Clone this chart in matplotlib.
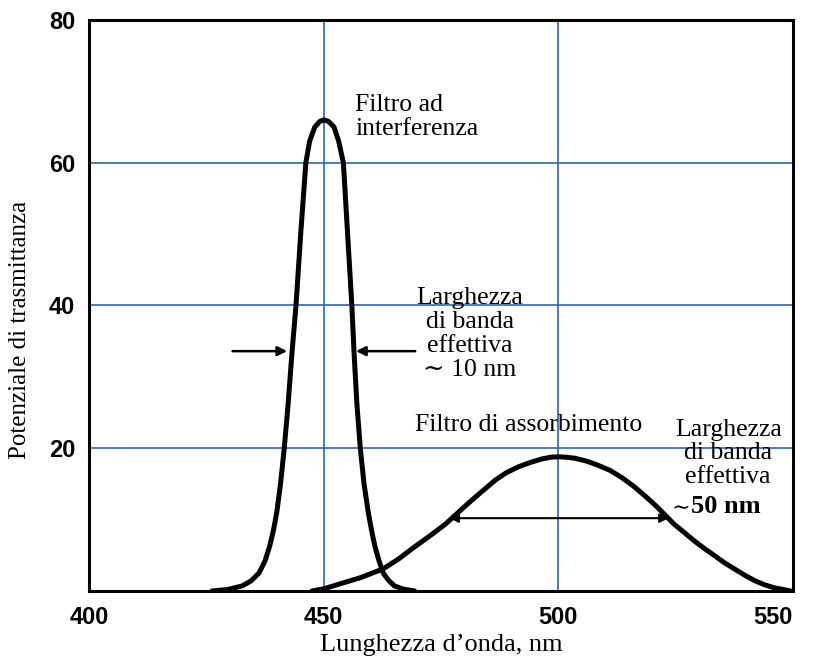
import matplotlib.pyplot as plt

# curve readings (wavelength nm, transmittance)
interf_wl = [426.2, 429.5, 432.6, 434.5, 436.2, 437.5, 438.5, 439.3, 440.0, 440.8, 441.6, 442.4,
             443.2, 444.1, 445.1, 446.2, 447.0, 448.1, 449.2, 450.1,
             451.0, 452.2, 453.2, 454.2, 455.1, 456.0, 456.5, 457.1, 457.8, 458.6, 459.5,
             460.2, 460.9, 461.8, 462.7, 463.8, 465.1, 467.0, 469.4]
interf_t = [0, 0.2, 0.7, 1.4, 2.5, 4.2, 6.3, 8.5, 11, 15, 20, 26,
            33, 40, 50, 60, 63, 65, 65.8, 66,
            65.8, 65, 63, 60, 50, 40, 33, 26, 20, 15, 11,
            8.5, 6.3, 4.2, 2.5, 1.5, 0.7, 0.25, 0]

absorb_wl = [447.5, 450, 454, 458, 462.7, 466, 469, 473, 476, 478.5, 481, 484, 486.7, 489, 491.5,
             494, 496.5, 498.5, 500, 501.5, 503.5, 506, 508.5, 511, 513.5, 516, 518.5, 521,
             524.6, 527, 529, 531, 533.4, 535.5, 538, 540, 542, 544, 546, 549.5]
absorb_t = [0, 0.3, 1.1, 1.9, 3.1, 4.5, 6.0, 7.9, 9.4, 10.9, 12.4, 14.1, 15.6, 16.6, 17.4,
            18.0, 18.5, 18.75, 18.8, 18.75, 18.6, 18.2, 17.6, 16.9, 15.9, 14.7, 13.3, 11.8,
            9.4, 8.1, 7.0, 6.0, 4.9, 3.9, 2.9, 2.1, 1.4, 0.85, 0.45, 0]

xticks = [400, 450, 500, 550]
yticks = [20, 40, 60, 80]

serif = ['Liberation Serif', 'DejaVu Serif']
blue = '#2f63b8'
fs = 18.5

fig = plt.figure(figsize=(8.13, 6.57), dpi=100)
ax = fig.add_axes([0.1095, 0.1005, 0.8659, 0.8691])

for x in [450, 500]:
    ax.axvline(x, color=blue, linewidth=1.2, zorder=1)
for y in [20, 40, 60]:
    ax.axhline(y, color=blue, linewidth=1.2, zorder=1)

ax.plot(interf_wl, interf_t, color='black', linewidth=3.6, solid_joinstyle='round',
        solid_capstyle='round', zorder=3)
ax.plot(absorb_wl, absorb_t, color='black', linewidth=3.6, solid_joinstyle='round',
        solid_capstyle='round', zorder=3)

ax.set_xlim(400, 550)
ax.set_ylim(0, 80)
ax.set_xticks(xticks)
ax.set_yticks(yticks)
ax.tick_params(axis='x', length=0, pad=11)
ax.tick_params(axis='y', length=0, pad=10)
for lab in ax.get_xticklabels() + ax.get_yticklabels():
    lab.set_fontweight('bold')
    lab.set_fontsize(17)
    lab.set_family('Liberation Sans')
ax.get_xticklabels()[-1].set_horizontalalignment('right')
for s in ax.spines.values():
    s.set_linewidth(2.2)

ax.set_xlabel('Lunghezza d\u2019onda, nm', family=serif, fontsize=19)
ax.xaxis.set_label_coords(0.5, -0.075)
ax.set_ylabel('Potenziale di trasmittanza', family=serif, fontsize=18)
ax.yaxis.set_label_coords(-0.082, 0.457)

# interference filter annotations
ax.text(456.7, 66.4, 'Filtro ad\ninterferenza', family=serif, fontsize=fs,
        ha='left', va='center', linespacing=1.15)
ax.text(481.2, 36.0, 'Larghezza\ndi banda\neffettiva\n\u223c 10 nm', family=serif,
        fontsize=fs, ha='center', va='center', linespacing=1.13)
ax.annotate('', xy=(442.8, 33.6), xytext=(430, 33.6),
            arrowprops=dict(arrowstyle='-|>', color='black', lw=1.8, mutation_scale=14))
ax.annotate('', xy=(456.3, 33.6), xytext=(470.1, 33.6),
            arrowprops=dict(arrowstyle='-|>', color='black', lw=1.8, mutation_scale=14))

# absorption filter annotations
ax.text(469.5, 23.3, 'Filtro di assorbimento', family=serif, fontsize=fs,
        ha='left', va='center')
ax.text(536.2, 19.3, 'Larghezza\ndi banda\neffettiva', family=serif, fontsize=fs,
        ha='center', va='center', linespacing=1.08)
ax.text(524.2, 11.4, '\u223c', family=serif, fontsize=16, ha='left', va='center')
ax.text(528.3, 11.8, '50 nm', family=serif, fontsize=19, fontweight='bold',
        ha='left', va='center')
ax.annotate('', xy=(476.2, 10.2), xytext=(524.1, 10.2),
            arrowprops=dict(arrowstyle='<|-|>', color='black', lw=1.5, mutation_scale=13))

fig.savefig('out.png', dpi=100)
